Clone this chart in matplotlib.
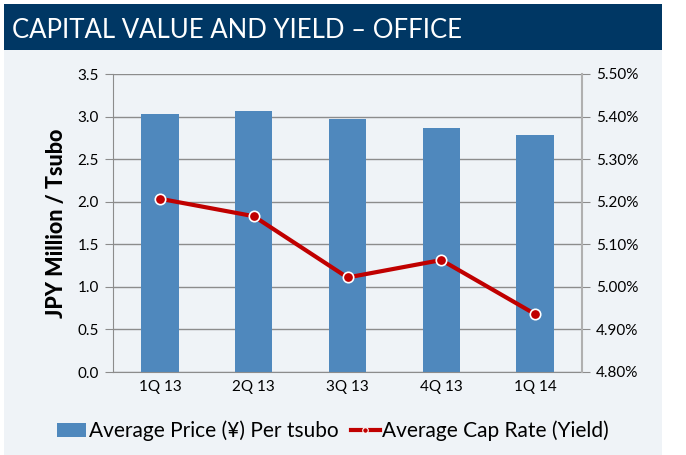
import matplotlib
matplotlib.use("Agg")
import matplotlib.pyplot as plt
from matplotlib.patches import Rectangle, Patch
from matplotlib.lines import Line2D
from matplotlib.ticker import FuncFormatter, MultipleLocator

categories = ["1Q 13", "2Q 13", "3Q 13", "4Q 13", "1Q 14"]
avg_price = [3.03, 3.07, 2.97, 2.87, 2.78]
cap_rate = [5.207, 5.166, 5.022, 5.063, 4.936]
title = "CAPITAL VALUE AND YIELD \u2013 OFFICE"

W, H = 686, 455
fig = plt.figure(figsize=(W / 100, H / 100), dpi=100)
fig.patch.set_facecolor("white")
plt.rcParams["font.family"] = ["Lato", "DejaVu Sans"]

# background panels
fig.add_artist(Rectangle((4 / W, 1 - 50 / H), 658 / W, 46 / H, transform=fig.transFigure,
                         facecolor="#003764", edgecolor="none", zorder=0))
fig.add_artist(Rectangle((4 / W, 0), 658 / W, 1 - 50 / H, transform=fig.transFigure,
                         facecolor="#eff3f7", edgecolor="none", zorder=0))
fig.text(12 / W, 1 - 30 / H, title, color="white", fontsize=18.5, va="center", ha="left")

ax = fig.add_axes([113 / W, 1 - 372 / H, (582 - 113) / W, (372 - 74) / H])
ax.set_facecolor("none")
x = list(range(len(categories)))
ax.bar(x, avg_price, width=0.4, color="#4f88bd", zorder=2)
ax.set_xlim(-0.5, len(categories) - 0.5)
ax.set_ylim(0, 3.5)
ax.yaxis.set_major_locator(MultipleLocator(0.5))
ax.yaxis.set_major_formatter(FuncFormatter(lambda v, p: f"{v:.1f}"))
ax.grid(axis="y", color="#8c8c8c", linewidth=1, zorder=1)
ax.set_xticks(x)
ax.set_xticklabels(categories)
ax.tick_params(axis="x", length=0, labelsize=11, pad=6)
ax.tick_params(axis="y", length=6, color="#8c8c8c", labelsize=11, pad=4)
for s in ["top", "right"]:
    ax.spines[s].set_visible(False)
ax.spines["left"].set_color("#8c8c8c")
ax.spines["bottom"].set_color("#8c8c8c")
ax.set_ylabel("JPY Million / Tsubo", fontsize=15.5, fontweight="black", labelpad=8)

ax2 = ax.twinx()
ax2.plot(x, cap_rate, color="#c00000", linewidth=3, marker="o", markersize=7.5,
         markerfacecolor="#c00000", markeredgecolor="white", markeredgewidth=1.2, zorder=3)
ax2.set_ylim(4.8, 5.5)
ax2.yaxis.set_major_locator(MultipleLocator(0.1))
ax2.yaxis.set_major_formatter(FuncFormatter(lambda v, p: f"{v:.2f}%"))
ax2.tick_params(axis="y", length=6, color="#8c8c8c", labelsize=11, pad=4)
for s in ["top", "left", "bottom"]:
    ax2.spines[s].set_visible(False)
ax2.spines["right"].set_color("#b0b0b0")
ax2.spines["right"].set_linewidth(1.5)

handles = [Patch(facecolor="#4f88bd", edgecolor="none"),
           Line2D([0], [0], color="#c00000", linewidth=3, marker="o", markersize=4,
                  markerfacecolor="#c00000", markeredgecolor="white", markeredgewidth=0.8)]
fig.legend(handles, ["Average Price (\u00a5) Per tsubo", "Average Cap Rate (Yield)"],
           loc="center", bbox_to_anchor=(333 / W, 1 - 431 / H), ncol=2, frameon=False,
           fontsize=15, handlelength=1.4, handletextpad=0.1, columnspacing=0.6)

fig.savefig("out.png", dpi=100)
